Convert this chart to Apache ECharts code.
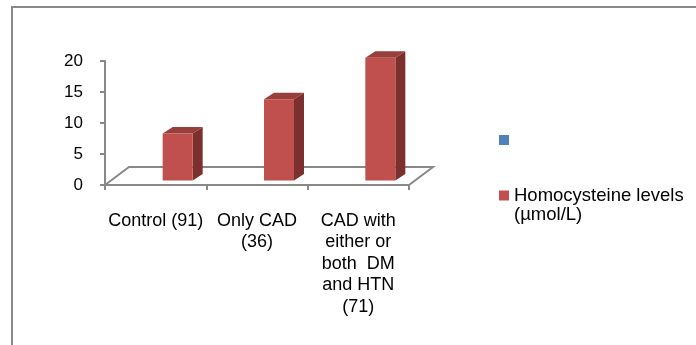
<!DOCTYPE html>
<html>
<head>
<meta charset="utf-8">
<script src="https://cdn.jsdelivr.net/npm/echarts@6/dist/echarts.min.js"></script>
<style>
  html, body { margin: 0; padding: 0; background: #ffffff; }
  #chart { width: 696px; height: 345px; }
</style>
</head>
<body>
<div id="chart"></div>
<script>
// Patient groups (with group sizes) and mean homocysteine per group
const categories = ['Control (91)', 'Only CAD\n(36)', 'CAD with\neither or\nboth  DM\nand HTN\n(71)'];
const homocysteine = [7.6, 13.1, 19.8];
const yTicks = [0, 5, 10, 15, 20];
const seriesName = 'Homocysteine levels (µmol/L)';
const blankName = ' ';

const FONT = '"Liberation Sans", Arial, sans-serif';
const GRAY = '#888888';

// Box-shaped bar: front face, right side face and top face
function renderBar(params, api) {
  const idx = api.value(0);
  const val = api.value(1);
  const base = api.coord([idx, 0]);
  const top = api.coord([idx, val]);
  const bw = 30, dx = 10, dy = 6.5, shiftX = 22, lift = 4.5;
  const cx = base[0] + shiftX;
  const l = cx - bw / 2, r = cx + bw / 2;
  const yb = base[1] - lift, yt = top[1] - lift;
  return {
    type: 'group',
    children: [
      { type: 'polygon', shape: { points: [[r, yt], [r + dx, yt - dy], [r + dx, yb - dy], [r, yb]] },
        style: { fill: '#7B302E' } },
      { type: 'polygon', shape: { points: [[l, yt], [l + dx, yt - dy], [r + dx, yt - dy], [r, yt]] },
        style: { fill: '#983E3B' } },
      { type: 'rect', shape: { x: l, y: yt, width: bw, height: yb - yt },
        style: { fill: '#C0504D' } }
    ]
  };
}

// Floor outline in perspective, spanning the grid width at the zero line
function renderFloor(params, api) {
  const cs = params.coordSys;
  const y0 = api.coord([0, 0])[1];
  const x0 = cs.x, x1 = cs.x + cs.width;
  const dx = 24, dy = 18;
  return {
    type: 'polyline',
    shape: { points: [[x0, y0], [x0 + dx, y0 - dy], [x1 + dx, y0 - dy], [x1, y0]] },
    style: { stroke: GRAY, lineWidth: 2, fill: null }
  };
}

const chart = echarts.init(document.getElementById('chart'), null, { renderer: 'canvas' });

chart.setOption({
  animation: false,
  backgroundColor: '#ffffff',
  textStyle: { fontFamily: FONT },
  graphic: [
    { type: 'rect', shape: { x: 12, y: 7, width: 720, height: 400 },
      style: { stroke: GRAY, lineWidth: 2, fill: null }, z: -1 }
  ],
  grid: { left: 105, right: 287, top: 61, bottom: 160 },
  legend: [
    {
      data: [blankName], left: 494, top: 126, icon: 'rect',
      itemWidth: 10, itemHeight: 10,
      textStyle: { fontSize: 18, color: '#000', fontFamily: FONT }
    },
    {
      data: [seriesName], left: 494, top: 162, icon: 'rect',
      itemWidth: 10, itemHeight: 10, itemGap: 4,
      formatter: n => '\n' + n.replace(' (', '\n('),
      textStyle: { fontSize: 18.5, lineHeight: 19, color: '#000', fontFamily: FONT }
    }
  ],
  xAxis: {
    type: 'category',
    data: categories,
    axisLine: { show: true, lineStyle: { color: GRAY, width: 2 } },
    axisTick: { show: true, length: 5, lineStyle: { color: GRAY, width: 2 } },
    axisLabel: { interval: 0, color: '#000', fontSize: 18, lineHeight: 21.5, margin: 25, fontFamily: FONT }
  },
  yAxis: {
    type: 'value',
    min: yTicks[0],
    max: yTicks[yTicks.length - 1],
    interval: yTicks[1] - yTicks[0],
    axisLine: { show: true, lineStyle: { color: GRAY, width: 2 } },
    axisTick: { show: true, length: 5, lineStyle: { color: GRAY, width: 2 } },
    splitLine: { show: false },
    axisLabel: { color: '#000', fontSize: 17, margin: 22, fontFamily: FONT }
  },
  series: [
    {
      name: 'floor', type: 'custom', renderItem: renderFloor,
      data: [[0, 0]], silent: true, z: 1
    },
    {
      name: seriesName, type: 'custom', renderItem: renderBar,
      encode: { x: 0, y: 1 },
      data: homocysteine.map((v, i) => [i, v]),
      itemStyle: { color: '#C0504D' }, z: 2
    },
    {
      name: blankName, type: 'bar', data: [],
      itemStyle: { color: '#4F81BD' }
    }
  ]
});
</script>
</body>
</html>
